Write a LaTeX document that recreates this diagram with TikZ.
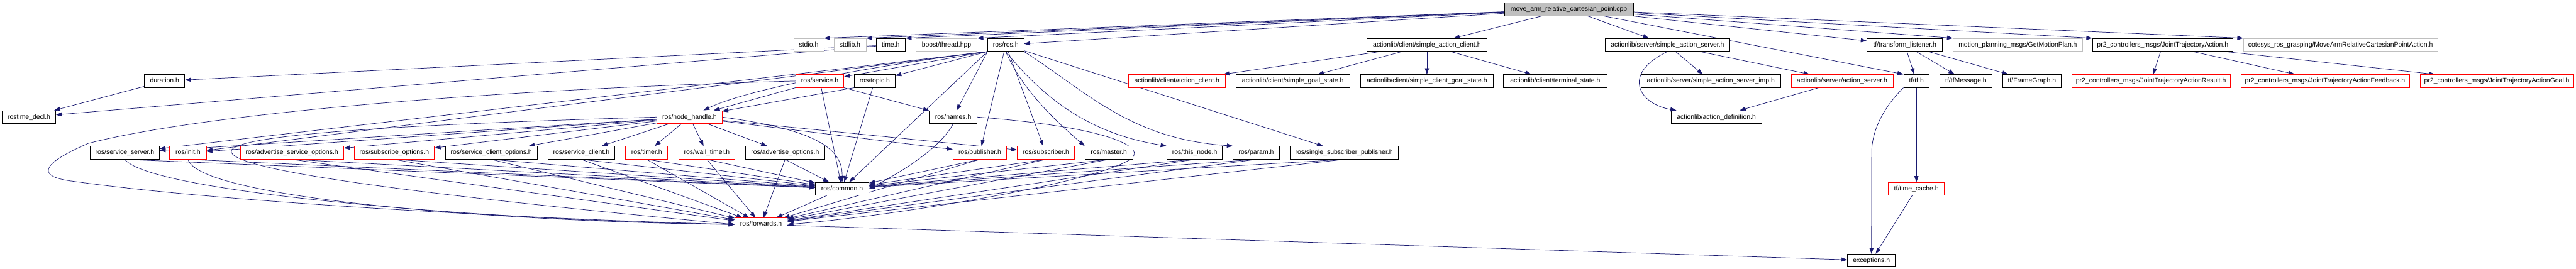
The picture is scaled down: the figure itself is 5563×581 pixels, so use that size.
\documentclass[tikz,border=0pt]{standalone}
\usepackage{fontspec}
\setmainfont{Liberation Sans}
\usepackage{xcolor}
\usetikzlibrary{arrows.meta,positioning}

\definecolor{edgeblue}{HTML}{191970}
\definecolor{missgrey}{HTML}{BFBFBF}
\pgfdeclarelayer{edges}
\pgfsetlayers{edges,main}

\tikzset{
  hdr/.style={draw=black, fill=white, line width=1pt, minimum height=28pt, inner sep=0pt,
    font=\fontsize{14.2}{16}\selectfont, text height=10.5pt, text depth=3pt},
  trunc/.style={hdr, draw=red},
  missing/.style={hdr, draw=missgrey},
  srcfile/.style={hdr, fill=missgrey},
  dep/.style={edgeblue, line width=1pt, -{Triangle[length=13pt,width=9pt]}},
}

\begin{document}
\begin{tikzpicture}[x=1pt,y=-1pt]
  \useasboundingbox (0,0) rectangle (5563,581);

  % top row
  \node[srcfile, minimum width=278pt] (main) at (3388,20) {move\_arm\_relative\_cartesian\_point.cpp};

  % level 1
  \node[missing, minimum width=65pt]  (stdio)  at (1746.5,97) {stdio.h};
  \node[missing, minimum width=69pt]  (stdlib) at (1835.5,97) {stdlib.h};
  \node[hdr,     minimum width=63pt]  (timeh)  at (1923.5,97) {time.h};
  \node[missing, minimum width=132pt] (boost)  at (2044,97)   {boost/thread.hpp};
  \node[hdr,     minimum width=78pt]  (rosh)   at (2172,97)   {ros/ros.h};
  \node[hdr,     minimum width=259pt] (sac)    at (3081.5,97) {actionlib/client/simple\_action\_client.h};
  \node[hdr,     minimum width=270pt] (sas)    at (3601,97)   {actionlib/server/simple\_action\_server.h};
  \node[hdr,     minimum width=163pt] (tfl)    at (4113.5,97) {tf/transform\_listener.h};
  \node[missing, minimum width=279pt] (gmp)    at (4357.5,97) {motion\_planning\_msgs/GetMotionPlan.h};
  \node[hdr,     minimum width=303pt] (jta)    at (4670.5,97) {pr2\_controllers\_msgs/JointTrajectoryAction.h};
  \node[missing, minimum width=419pt] (cot)    at (5054.5,97) {cotesys\_ros\_grasping/MoveArmRelativeCartesianPointAction.h};

  % level 2
  \node[hdr,   minimum width=87pt]  (duration) at (355.5,175)  {duration.h};
  \node[trunc, minimum width=103pt] (service)  at (1770.5,175) {ros/service.h};
  \node[hdr,   minimum width=88pt]  (topic)    at (1889,175)   {ros/topic.h};
  \node[trunc, minimum width=209pt] (acl)      at (2541.5,175) {actionlib/client/action\_client.h};
  \node[hdr,   minimum width=246pt] (sgs)      at (2792,175)   {actionlib/client/simple\_goal\_state.h};
  \node[hdr,   minimum width=287pt] (scgs)     at (3081.5,175) {actionlib/client/simple\_client\_goal\_state.h};
  \node[hdr,   minimum width=223pt] (ts)       at (3358.5,175) {actionlib/client/terminal\_state.h};
  \node[hdr,   minimum width=301pt] (sasi)     at (3694.5,175) {actionlib/server/simple\_action\_server\_imp.h};
  \node[trunc, minimum width=220pt] (as)       at (3978,175)   {actionlib/server/action\_server.h};
  \node[hdr,   minimum width=55pt]  (tfh)      at (4138.5,175) {tf/tf.h};
  \node[hdr,   minimum width=113pt] (tfm)      at (4245.5,175) {tf/tfMessage.h};
  \node[hdr,   minimum width=126pt] (fg)       at (4388,175)   {tf/FrameGraph.h};
  \node[trunc, minimum width=342pt] (jtar)     at (4645,175)   {pr2\_controllers\_msgs/JointTrajectoryActionResult.h};
  \node[trunc, minimum width=364pt] (jtaf)     at (5021,175)   {pr2\_controllers\_msgs/JointTrajectoryActionFeedback.h};
  \node[trunc, minimum width=332pt] (jtag)     at (5392,175)   {pr2\_controllers\_msgs/JointTrajectoryActionGoal.h};

  % level 3
  \node[hdr,   minimum width=116pt] (rtd)   at (62.5,253)   {rostime\_decl.h};
  \node[trunc, minimum width=140pt] (nh)    at (1489,253)   {ros/node\_handle.h};
  \node[hdr,   minimum width=103pt] (names) at (2058.5,253) {ros/names.h};
  \node[hdr,   minimum width=195pt] (ad)    at (3706.5,253) {actionlib/action\_definition.h};

  % level 4
  \node[hdr,   minimum width=149pt] (ss)     at (269.5,330)  {ros/service\_server.h};
  \node[trunc, minimum width=79pt]  (init)   at (406,330)    {ros/init.h};
  \node[trunc, minimum width=223pt] (aso)    at (630.5,330)  {ros/advertise\_service\_options.h};
  \node[trunc, minimum width=173pt] (so)     at (851.5,330)  {ros/subscribe\_options.h};
  \node[hdr,   minimum width=198pt] (sco)    at (1061,330)   {ros/service\_client\_options.h};
  \node[hdr,   minimum width=145pt] (sc)     at (1255.5,330) {ros/service\_client.h};
  \node[trunc, minimum width=91pt]  (timer)  at (1396.5,330) {ros/timer.h};
  \node[trunc, minimum width=121pt] (wt)     at (1526.5,330) {ros/wall\_timer.h};
  \node[hdr,   minimum width=171pt] (ao)     at (1695.5,330) {ros/advertise\_options.h};
  \node[trunc, minimum width=116pt] (pub)    at (2116,330)   {ros/publisher.h};
  \node[trunc, minimum width=123pt] (sub)    at (2258.5,330) {ros/subscriber.h};
  \node[hdr,   minimum width=103pt] (master) at (2394.5,330) {ros/master.h};
  \node[hdr,   minimum width=120pt] (tn)     at (2580,330)   {ros/this\_node.h};
  \node[hdr,   minimum width=100pt] (param)  at (2713,330)   {ros/param.h};
  \node[hdr,   minimum width=233pt] (ssp)    at (2902.5,330) {ros/single\_subscriber\_publisher.h};

  % levels 5 to 7
  \node[hdr,   minimum width=115pt] (common) at (1818.5,408) {ros/common.h};
  \node[trunc, minimum width=121pt] (tc)     at (4138.5,408) {tf/time\_cache.h};
  \node[trunc, minimum width=113pt] (fwd)    at (1643.5,485) {ros/forwards.h};
  \node[hdr,   minimum width=103pt] (exc)    at (4041.5,563) {exceptions.h};

  \begin{pgfonlayer}{edges}
    % includes of the source file
    \foreach \n in {stdio,stdlib,timeh,boost}
      \draw[dep] (main) -- (\n.north east);
    \foreach \n in {rosh,sac,sas,tfl}
      \draw[dep] (main) -- (\n);
    \foreach \n in {gmp,jta,cot}
      \draw[dep] (main) -- (\n.north west);
    \draw[dep] (main) -- (tfh.north west);

    % ros time
    \draw[dep] (timeh) -- (duration);
    \draw[dep] (timeh) -- (rtd);
    \draw[dep] (duration) -- (rtd);

    % ros/ros.h
    \foreach \n in {ss,init,service,topic,names,common}
      \draw[dep] (rosh.south west) -- (\n);
    \draw[dep] (rosh.south west) .. controls (1900,140) and (1620,190) .. (nh);
    \foreach \n in {pub,sub,ssp}
      \draw[dep] (rosh) -- (\n);
    \draw[dep] (rosh.south) .. controls (2210,200) and (2290,270) .. (master.north west);
    \draw[dep] (rosh.south) .. controls (2260,220) and (2360,290) .. (tn.north west);
    \draw[dep] (rosh.south east) .. controls (2350,200) and (2440,300) .. (param.north west);

    % service and topic
    \draw[dep] (service) -- (nh);
    \draw[dep] (service.south east) -- (names);
    \draw[dep] (service) -- (common);
    \draw[dep] (service.west) .. controls (1000,195) and (420,250) .. (190,310)
      .. controls (110,345) and (60,380) .. (160,392)
      .. controls (500,440) and (1200,475) .. (fwd.west);
    \draw[dep] (topic.south west) -- (nh);
    \draw[dep] (topic) -- (common);

    % ros/node_handle.h
    \foreach \n in {ss,init,aso,so,sco,sc,timer,wt,ao,pub,sub}
      \draw[dep] (nh) -- (\n);
    \draw[dep] (nh.east) .. controls (1760,280) and (1820,320) .. (common.north);
    \draw[dep] (nh.west) .. controls (900,268) and (480,290) .. (500,330)
      .. controls (520,370) and (900,420) .. (fwd.west);

    % ros/names.h
    \draw[dep] (names.south) .. controls (2030,320) and (1950,370) .. (common.east);
    \draw[dep] (names.east) .. controls (2400,275) and (2480,320) .. (2440,345)
      .. controls (2350,400) and (1900,470) .. (fwd.east);

    % the row of ros headers
    \foreach \n in {ss,init,aso,so,sco,sc,timer,wt,ao,pub,sub,master,tn,param,ssp}
      \draw[dep] (\n.south) -- (common);
    \foreach \n in {aso,so,sco,sc,timer,wt,ao,pub,sub,master,tn,param,ssp}
      \draw[dep] (\n.south) -- (fwd);
    \draw[dep] (ss.south) .. controls (330,420) and (1100,478) .. (fwd.west);
    \draw[dep] (init.south) .. controls (430,430) and (1100,480) .. (fwd.west);
    \draw[dep] (common) -- (fwd);
    \draw[dep] (fwd) -- (exc);

    % actionlib
    \foreach \n in {acl,sgs,scgs,ts}
      \draw[dep] (sac) -- (\n);
    \draw[dep] (sas) -- (sasi);
    \draw[dep] (sas) -- (as);
    \draw[dep] (sas.south) .. controls (3500,160) and (3540,225) .. (ad);
    \draw[dep] (as) -- (ad);

    % tf
    \foreach \n in {tfh,tfm,fg}
      \draw[dep] (tfl) -- (\n);
    \draw[dep] (tfh) -- (tc);
    \draw[dep] (tfh.south west) .. controls (4060,240) and (4042,290) .. (4042,330) -- (exc.north);
    \draw[dep] (tc) -- (exc);

    % pr2 controllers
    \foreach \n in {jtar,jtaf,jtag}
      \draw[dep] (jta) -- (\n);
  \end{pgfonlayer}
\end{tikzpicture}
\end{document}
